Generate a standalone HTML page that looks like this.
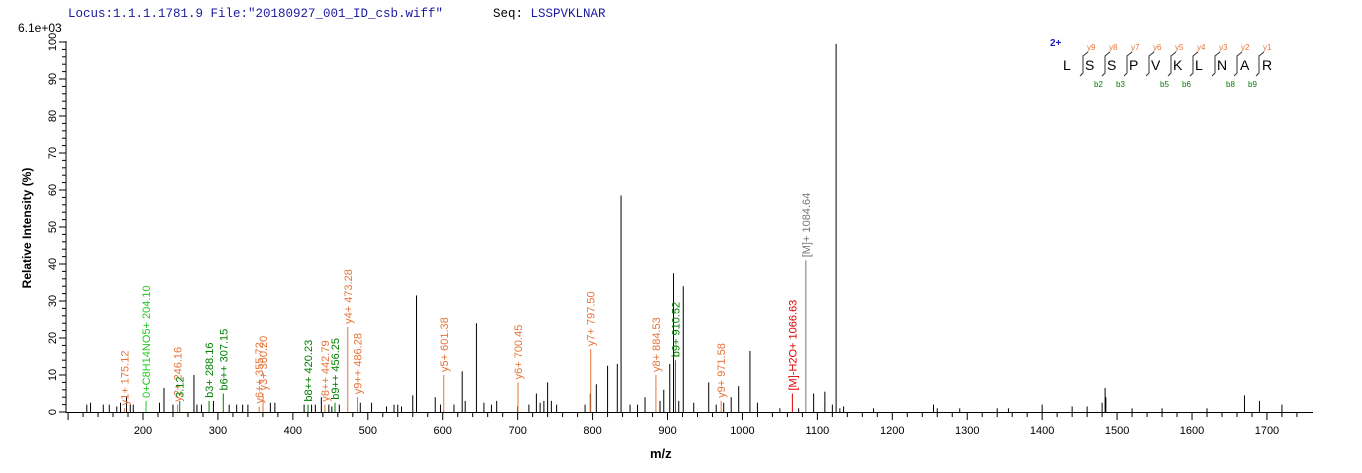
<!DOCTYPE html><html><head><style>body{margin:0;background:#fff}svg{display:block}text{font-family:"Liberation Sans",Arial,sans-serif}</style></head><body>
<svg width="1362" height="473" xmlns="http://www.w3.org/2000/svg">
<text x="68" y="17" font-size="12.5" fill="#1a1aa0" style="font-family:'Liberation Mono'">Locus:1.1.1.1781.9 File:"20180927_001_ID_csb.wiff"</text>
<text x="493" y="17" font-size="12.5" fill="#000" style="font-family:'Liberation Mono'">Seq: <tspan fill="#1a1aa0">LSSPVKLNAR</tspan></text>
<text x="18" y="32" font-size="12">6.1e+03</text>
<g stroke="#000" stroke-width="1">
<line x1="66" y1="41" x2="66" y2="413"/>
<line x1="66" y1="412.5" x2="1313" y2="412.5"/>
</g>
<g id="yt"></g><g id="xt"></g><g id="pk"></g><g id="lb"></g>
<text transform="translate(31,228) rotate(-90)" text-anchor="middle" font-size="12" font-weight="bold">Relative   Intensity (%)</text>
<text x="650" y="458" font-size="13" font-weight="bold">m/z</text>
<g font-size="14">
<text x="1050" y="46" font-size="10" fill="#1a1ac8" font-weight="bold">2+</text>
<text x="1063" y="70">L</text><text x="1085" y="70">S</text><text x="1107" y="70">S</text><text x="1129" y="70">P</text><text x="1151" y="70">V</text><text x="1173" y="70">K</text><text x="1195" y="70">L</text><text x="1217" y="70">N</text><text x="1240" y="70">A</text><text x="1262" y="70">R</text>
</g>
<g id="frag"></g>
<script>
var ns="http://www.w3.org/2000/svg";
function el(p,t,a,tx){var e=document.createElementNS(ns,t);for(var k in a)e.setAttribute(k,a[k]);if(tx!==undefined)e.textContent=tx;document.getElementById(p).appendChild(e);return e;}
function X(m){return 143+(m-200)*0.7493;}function Y(v){return 412-v*3.7;}
for(var v=0;v<=100;v+=2){var y=Y(v);el('yt','line',{x1:v%10?62:59,x2:66,y1:y,y2:y,stroke:'#000'});if(v%10==0)el('yt','text',{transform:'translate(56,'+y+') rotate(-90)','text-anchor':'middle','font-size':'11'},String(v));}
for(var m=100;m<=1750;m+=20){var x=X(m);if(x<66)continue;el('xt','line',{x1:x,x2:x,y1:413,y2:m%100?417:420,stroke:'#000'});if(m%100==0&&m>=200&&m<=1700)el('xt','text',{x:x,y:434,'text-anchor':'middle','font-size':'11'},String(m));}
var P=[[125,2],[130,2.5],[147,2],[155,2],[165,1.5],[170,2.5],[178,4],[183,2],[187,2],[222,2.5],[228,6.5],[240,2],[268,10],[272,2],[278,2],[294,3],[315,2],[325,2],[333,2],[340,2],[370,2.5],[376,2.5],[415,2],[425,2],[430,2],[438,4],[448,2],[452,1.5],[462,2],[490,2.5],[505,2.5],[525,1.5],[535,2],[540,2],[545,1.5],[560,4.5],[565,31.5],[590,4],[597,2],[615,2],[626,11],[630,3],[645,24],[655,2.5],[665,2],[672,3],[700,1.5],[715,2],[725,5],[730,2.5],[735,3],[740,8],[745,3],[752,2],[790,2],[797,5],[805,7.5],[820,12.5],[833,13],[838,58.5],[850,2],[860,2],[870,4],[890,3],[895,6],[903,13],[908,37.5],[915,3],[921,34],[935,2.5],[955,8],[965,2],[975,2.5],[985,4],[995,7],[1010,16.5],[1020,2.5],[1050,1],[1075,1],[1095,5],[1110,5.5],[1120,2],[1125,99.5],[1130,1],[1135,1.5],[1175,1],[1255,2],[1260,1],[1290,1],[1340,1],[1355,1],[1400,2],[1440,1.5],[1460,1.5],[1480,2.5],[1484,6.5],[1485,4],[1520,1],[1560,1],[1620,1],[1670,4.5],[1690,3],[1720,2]];
P.forEach(function(p){el('pk','line',{x1:X(p[0]),x2:X(p[0]),y1:412,y2:Y(p[1]),stroke:'#000'});});
var O='#e8743a',G='#008000',L='#22cc22',R='#dd0000',Gr='#777';
var A=[[175.12,1,'y1+ 175.12',O],[204.10,3,'0+C8H14NO5+ 204.10',L],[246.16,2,'y2+ 246.16',O],[249,3,'3.12',G],[288.16,3,'b3+ 288.16',G],[307.15,5,'b6++ 307.15',G],[355,1.5,'y6++ 355.72',O],[360.20,5,'y3+ 360.20',O],[420.23,2,'b8++ 420.23',G],[442.79,2,'y8++ 442.79',O],[456.25,2.5,'b9++ 456.25',G],[473.28,23,'y4+ 473.28',O],[486.28,4,'y9++ 486.28',O],[601.38,10,'y5+ 601.38',O],[700.45,8,'y6+ 700.45',O],[797.50,17,'y7+ 797.50',O],[884.53,10,'y8+ 884.53',O],[910.52,14,'b9+ 910.52',G],[971.58,3,'y9+ 971.58',O],[1066.63,5,'[M]-H2O+ 1066.63',R],[1084.64,41,'[M]+ 1084.64',Gr]];
A.forEach(function(a){var x=X(a[0]),y=Y(a[1]);el('lb','line',{x1:x,x2:x,y1:412,y2:y,stroke:a[3]});el('lb','text',{transform:'translate('+(x+4)+','+(y-3)+') rotate(-90)','font-size':'11',fill:a[3]},a[2]);});
var ys=['y9','y8','y7','y6','y5','y4','y3','y2','y1'];
for(var i=0;i<9;i++){var x=1080+i*22;el('frag','path',{d:'M'+(x+8)+' 52 L'+(x+3)+' 56 L'+(x+3)+' 73 L'+x+' 76',stroke:'#333',fill:'none'});el('frag','text',{x:x+7,y:50,'font-size':'8',fill:O},ys[i]);}
[['b2',0],['b3',1],['b5',3],['b6',4],['b8',6],['b9',7]].forEach(function(b){el('frag','text',{x:1094+b[1]*22,y:87,'font-size':'8',fill:G},b[0]);});
</script>
</svg></body></html>
